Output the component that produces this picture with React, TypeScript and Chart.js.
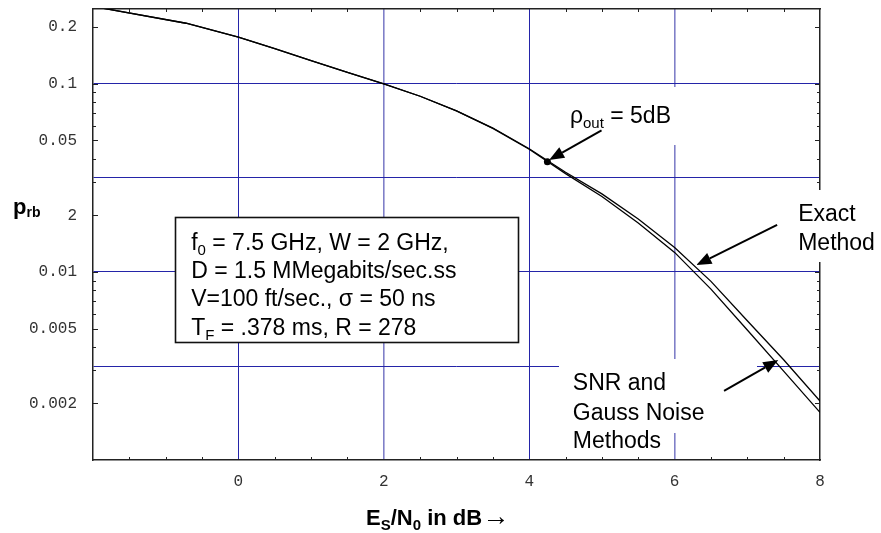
import React, { useEffect, useRef } from 'react';
import { Chart, registerables } from 'chart.js';

Chart.register(...registerables);

// ---- data ----
const xValues = [-2, -0.72, 0, 0.5, 1, 1.5, 2, 2.5, 3, 3.5, 4, 4.5, 5, 5.5, 6, 6.5, 7, 7.5, 8];
const exactMethod = [0.258, 0.21, 0.177, 0.154, 0.133, 0.115, 0.1, 0.0859, 0.0718, 0.0582, 0.0452, 0.0339, 0.026, 0.0191, 0.0135, 0.00891, 0.0055, 0.00341, 0.00206];
const snrGaussMethods = [0.258, 0.21, 0.177, 0.154, 0.133, 0.115, 0.1, 0.0859, 0.0718, 0.058, 0.0449, 0.0333, 0.0252, 0.0182, 0.0127, 0.0081, 0.00491, 0.00297, 0.00179];
const rhoPointX = [4.25];
const rhoPointY = [0.0385];

const xMin = -2;
const xMax = 8;
const yMin = 0.001;
const yMax = 0.25;

const xTickValues = [0, 2, 4, 6, 8];
const xGridValues = [0, 2, 4, 6];
const xMinorTicks = [-1.5, -1, -0.5, 0.5, 1, 1.5, 2.5, 3, 3.5, 4.5, 5, 5.5, 6.5, 7, 7.5];
const yTickValues = [0.002, 0.005, 0.01, 0.02, 0.05, 0.1, 0.2];
const yTickLabels = ['0.002', '0.005', '0.01', '2', '0.05', '0.1', '0.2'];
const yGridValues = [0.00316, 0.01, 0.0316, 0.1];
const yMinorTicks = [0.003, 0.004, 0.006, 0.007, 0.008, 0.009, 0.03, 0.04, 0.06, 0.07, 0.08, 0.09];

const NAVY = '#2424a8';
const NAVY_LIGHT = '#8080c8';
const FRAME = '#222222';
const SANS = '"Liberation Sans", Arial, sans-serif';
const MONO = '"Liberation Mono", "DejaVu Sans Mono", monospace';

type Seg = { t: string; size: number; bold?: boolean; dy?: number };

function segFont(s: Seg) {
  return `${s.bold ? 'bold ' : ''}${s.size}px ${SANS}`;
}
function measureRich(ctx: CanvasRenderingContext2D, segs: Seg[]) {
  let w = 0;
  for (const s of segs) {
    ctx.font = segFont(s);
    w += ctx.measureText(s.t).width;
  }
  return w;
}
function drawRich(ctx: CanvasRenderingContext2D, x: number, y: number, segs: Seg[]) {
  let cx = x;
  ctx.fillStyle = '#000';
  ctx.textAlign = 'left';
  ctx.textBaseline = 'alphabetic';
  for (const s of segs) {
    ctx.font = segFont(s);
    ctx.fillText(s.t, cx, y + (s.dy || 0));
    cx += ctx.measureText(s.t).width;
  }
}

// annotation definitions (in data units)
const FS = 23;
const SUB = 15;
const paramBox = { x0: -0.87, x1: 3.845, y0: 0.0196, y1: 0.00425 };
const paramTextX = -0.65;
const paramLineY = [0.01445, 0.01025, 0.00728, 0.00509];
const paramLines: Seg[][] = [
  [{ t: 'f', size: FS }, { t: '0', size: SUB, dy: 5 }, { t: ' = 7.5 GHz, W = 2 GHz,', size: FS }],
  [{ t: 'D = 1.5 MMegabits/sec.ss', size: FS }],
  [{ t: 'V=100 ft/sec., \u03c3 = 50 ns', size: FS }],
  [{ t: 'T', size: FS }, { t: 'F', size: SUB, dy: 5 }, { t: ' = .378 ms, R = 278', size: FS }],
];
const rhoBox = { x0: 4.21, x1: 6.21, y0: 0.0964, y1: 0.0474 };
const rhoText = { x: 4.56, y: 0.0684 };
const rhoArrow = { x0: 4.995, y0: 0.0565, x1: 4.274, y1: 0.0394 };
const exactBox = { x0: 7.59, x1: 8.84, y0: 0.0273, y1: 0.0113 };
const exactTextX = 7.7;
const exactLineY = [0.0206, 0.01445];
const exactLines = ['Exact', 'Method'];
const exactArrow = { x0: 7.41, y0: 0.0178, x1: 6.3, y1: 0.01088 };
const snrBox = { x0: 4.405, x1: 7.13, y0: 0.00344, y1: 0.00139 };
const snrTextX = 4.6;
const snrLineY = [0.0026, 0.0018, 0.00128];
const snrLines = ['SNR and', 'Gauss Noise', 'Methods'];
const snrArrow = { x0: 6.68, y0: 0.00233, x1: 7.426, y1: 0.0034 };
const xTitleCenter = 2.74;
const yTitleValue = 0.0205;

function near(a: number, b: number) {
  return Math.abs(Math.log10(a) - Math.log10(b)) < 0.004;
}

function drawArrow(ctx: CanvasRenderingContext2D, x0: number, y0: number, x1: number, y1: number) {
  const ang = Math.atan2(y1 - y0, x1 - x0);
  const hl = 15;
  const hw = 6;
  const bx = x1 - hl * Math.cos(ang);
  const by = y1 - hl * Math.sin(ang);
  ctx.strokeStyle = '#000';
  ctx.fillStyle = '#000';
  ctx.lineWidth = 2;
  ctx.beginPath();
  ctx.moveTo(x0, y0);
  ctx.lineTo(bx, by);
  ctx.stroke();
  ctx.beginPath();
  ctx.moveTo(x1, y1);
  ctx.lineTo(bx + hw * Math.sin(ang), by - hw * Math.cos(ang));
  ctx.lineTo(bx - hw * Math.sin(ang), by + hw * Math.cos(ang));
  ctx.closePath();
  ctx.fill();
}

const annotationPlugin = {
  id: 'annotations',
  beforeDatasetsDraw(chart: any) {
    const { ctx, chartArea } = chart;
    const xs = chart.scales.x;
    const ys = chart.scales.y;
    const px = (v: number) => xs.getPixelForValue(v);
    const py = (v: number) => ys.getPixelForValue(v);
    ctx.save();
    // inner tick marks on all four sides
    ctx.strokeStyle = FRAME;
    ctx.lineWidth = 1;
    ctx.beginPath();
    for (const v of xMinorTicks) {
      const x = Math.round(px(v)) + 0.5;
      ctx.moveTo(x, chartArea.bottom);
      ctx.lineTo(x, chartArea.bottom - 3);
      ctx.moveTo(x, chartArea.top);
      ctx.lineTo(x, chartArea.top + 3);
    }
    const yt: [number, number][] = [
      ...yTickValues.map((v) => [v, 5] as [number, number]),
      ...yMinorTicks.map((v) => [v, 3] as [number, number]),
    ];
    for (const [v, len] of yt) {
      const y = Math.round(py(v)) + 0.5;
      ctx.moveTo(chartArea.left, y);
      ctx.lineTo(chartArea.left + len, y);
      ctx.moveTo(chartArea.right, y);
      ctx.lineTo(chartArea.right - len, y);
    }
    ctx.stroke();

    const rect = (b: { x0: number; x1: number; y0: number; y1: number }) => {
      const x = Math.round(px(b.x0));
      const y = Math.round(py(b.y0));
      return [x, y, Math.round(px(b.x1)) - x, Math.round(py(b.y1)) - y];
    };
    ctx.fillStyle = '#fff';
    for (const b of [rhoBox, exactBox, snrBox]) {
      const [x, y, w, h] = rect(b);
      ctx.fillRect(x, y, w, h);
    }
    // parameter box
    const [bx, by, bw, bh] = rect(paramBox);
    ctx.fillRect(bx, by, bw, bh);
    ctx.strokeStyle = '#111';
    ctx.lineWidth = 1.6;
    ctx.strokeRect(bx + 0.5, by + 0.5, bw, bh);

    const off = FS * 0.36;
    paramLines.forEach((segs, i) => drawRich(ctx, px(paramTextX), py(paramLineY[i]) + off, segs));
    drawRich(ctx, px(rhoText.x), py(rhoText.y) + off, [
      { t: '\u03c1', size: FS },
      { t: 'out', size: SUB, dy: 5 },
      { t: ' = 5dB', size: FS },
    ]);
    exactLines.forEach((t, i) => drawRich(ctx, px(exactTextX), py(exactLineY[i]) + off, [{ t, size: FS }]));
    snrLines.forEach((t, i) => drawRich(ctx, px(snrTextX), py(snrLineY[i]) + off, [{ t, size: FS }]));

    // axis titles
    const title: Seg[] = [
      { t: 'E', size: 22, bold: true },
      { t: 'S', size: 15, bold: true, dy: 5 },
      { t: '/N', size: 22, bold: true },
      { t: '0', size: 15, bold: true, dy: 5 },
      { t: ' in dB', size: 22, bold: true },
      { t: '\u2192', size: 27, bold: true },
    ];
    const tw = measureRich(ctx, title);
    drawRich(ctx, px(xTitleCenter) - tw / 2, chartArea.bottom + 65, title);
    drawRich(ctx, 13, py(yTitleValue) + 1, [
      { t: 'p', size: 22, bold: true },
      { t: 'rb', size: 14, bold: true, dy: 3 },
    ]);
    ctx.restore();
  },
  afterDatasetsDraw(chart: any) {
    const { ctx } = chart;
    const xs = chart.scales.x;
    const ys = chart.scales.y;
    ctx.save();
    for (const a of [rhoArrow, exactArrow, snrArrow]) {
      drawArrow(ctx, xs.getPixelForValue(a.x0), ys.getPixelForValue(a.y0), xs.getPixelForValue(a.x1), ys.getPixelForValue(a.y1));
    }
    ctx.restore();
  },
};

const noPad = (s: any) => {
  s.paddingLeft = 0;
  s.paddingRight = 0;
  s.paddingTop = 0;
  s.paddingBottom = 0;
};

export default function App() {
  const ref = useRef<HTMLCanvasElement | null>(null);
  useEffect(() => {
    if (!ref.current) return;
    const toPts = (ys: number[]) => xValues.map((x, i) => ({ x, y: ys[i] }));
    const chart = new Chart(ref.current, {
      type: 'line',
      data: {
        datasets: [
          { label: 'Exact Method', data: toPts(exactMethod), borderColor: '#000', borderWidth: 1.3, pointRadius: 0, fill: false, tension: 0 },
          { label: 'SNR and Gauss Noise Methods', data: toPts(snrGaussMethods), borderColor: '#000', borderWidth: 1.3, pointRadius: 0, fill: false, tension: 0 },
          {
            label: 'rho_out = 5dB',
            data: rhoPointX.map((x, i) => ({ x, y: rhoPointY[i] })),
            showLine: false,
            pointRadius: 3.5,
            pointBackgroundColor: '#000',
            pointBorderColor: '#000',
            borderWidth: 0,
          },
        ],
      },
      options: {
        animation: false,
        responsive: false,
        devicePixelRatio: 1,
        layout: { padding: 0 },
        plugins: { legend: { display: false }, tooltip: { enabled: false } },
        scales: {
          x: {
            type: 'linear',
            position: 'bottom',
            min: xMin,
            max: xMax,
            afterBuildTicks: (s: any) => {
              s.ticks = xTickValues.map((v) => ({ value: v }));
            },
            afterFit: (s: any) => {
              s.height = 73;
              noPad(s);
            },
            ticks: {
              autoSkip: false,
              maxRotation: 0,
              padding: 12,
              color: '#333',
              font: { family: MONO, size: 16 },
              callback: (v: any) => String(v),
            },
            grid: {
              drawTicks: false,
              color: (c: any) => {
                const v = c.tick ? c.tick.value : NaN;
                if (!xGridValues.includes(v)) return 'rgba(0,0,0,0)';
                return v === 2 || v === 6 ? NAVY_LIGHT : NAVY;
              },
              lineWidth: (c: any) => {
                const v = c.tick ? c.tick.value : NaN;
                return v === 2 || v === 6 ? 1.6 : 1;
              },
            },
            border: { display: true, color: FRAME, width: 1.5 },
          },
          x2: {
            type: 'linear',
            position: 'top',
            min: xMin,
            max: xMax,
            afterFit: (s: any) => {
              s.height = 9;
              noPad(s);
            },
            ticks: { display: false },
            grid: { display: false, drawTicks: false },
            border: { display: true, color: FRAME, width: 1.5 },
          },
          y: {
            type: 'logarithmic',
            position: 'left',
            min: yMin,
            max: yMax,
            afterBuildTicks: (s: any) => {
              const vals = [...yTickValues, ...yGridValues.filter((g) => !yTickValues.some((t) => near(t, g)))].sort((a, b) => a - b);
              s.ticks = vals.map((v) => ({ value: v }));
            },
            afterFit: (s: any) => {
              s.width = 93;
              noPad(s);
            },
            ticks: {
              autoSkip: false,
              padding: 16,
              color: '#333',
              font: { family: MONO, size: 16 },
              callback: (v: any) => {
                const i = yTickValues.findIndex((t) => near(t, v));
                return i >= 0 ? yTickLabels[i] : '';
              },
            },
            grid: {
              drawTicks: false,
              color: (c: any) => {
                const v = c.tick ? c.tick.value : NaN;
                return yGridValues.some((g) => near(g, v)) ? NAVY : 'rgba(0,0,0,0)';
              },
              lineWidth: 1,
            },
            border: { display: true, color: FRAME, width: 1.5 },
          },
          y2: {
            type: 'logarithmic',
            position: 'right',
            min: yMin,
            max: yMax,
            afterFit: (s: any) => {
              s.width = 61;
              noPad(s);
            },
            ticks: { display: false },
            grid: { display: false, drawTicks: false },
            border: { display: true, color: FRAME, width: 1.5 },
          },
        },
      } as any,
      plugins: [annotationPlugin],
    });
    return () => chart.destroy();
  }, []);
  return (
    <canvas
      ref={ref}
      width={881}
      height={533}
      style={{ position: 'absolute', left: 0, top: 0, width: 881, height: 533 }}
    />
  );
}
